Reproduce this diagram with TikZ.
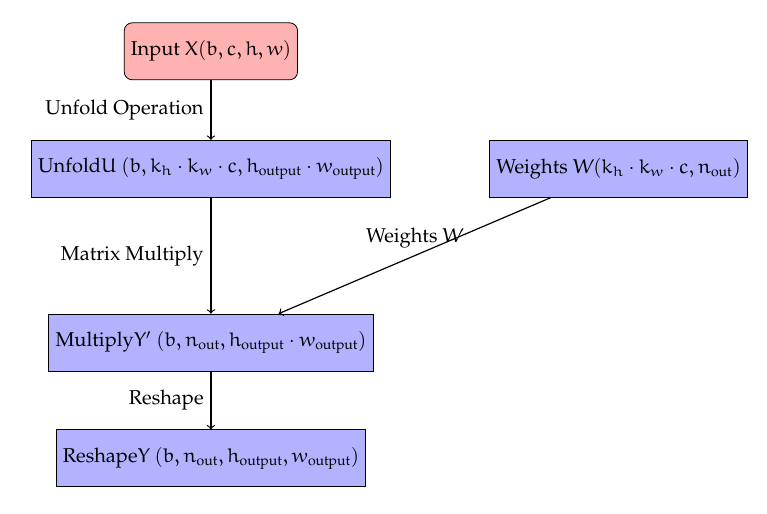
\documentclass[tikz,border=0pt]{standalone}
\usepackage[T1]{fontenc}
\usepackage{amsmath}
\IfFileExists{tgpagella.sty}{\usepackage{tgpagella}}{\IfFileExists{mathpazo.sty}{\renewcommand{\rmdefault}{ppl}}{}}
\IfFileExists{eulervm.sty}{\usepackage{eulervm}}{\IfFileExists{ueur.fd}{\DeclareSymbolFont{letters}{U}{eur}{m}{n}}{}}
\usepackage{tikz}

\begin{document}
\begin{tikzpicture}
        \tikzstyle{stage}=[draw=black, fill=blue!30, minimum height=1cm]
        \tikzstyle{source}=[draw=black, fill=red!30, rounded corners, minimum height=1cm]
        \tikzstyle{flow}=[->, semithick]
        \useasboundingbox (0,0) rectangle (13.456,-9);
        \node [source] (input) at (3.7,-0.9) {Input $X(b, c, h, w)$};
        \node [stage] (unfold) at (3.7,-2.96) {Unfold$U$ $(b, k_h \cdot k_w \cdot c, h_{\text{output}} \cdot w_{\text{output}})$};
        \node [stage] (weights) at (10.85,-2.96) {Weights $W(k_h \cdot k_w \cdot c, n_{\text{out}})$};
        \node [stage] (multiply) at (3.7,-6.01) {Multiply$Y'$ $(b, n_{\text{out}}, h_{\text{output}} \cdot w_{\text{output}})$};
        \node [stage] (reshape) at (3.7,-8.04) {Reshape$Y$ $(b, n_{\text{out}}, h_{\text{output}}, w_{\text{output}})$};
        \draw [flow] (input) -- (unfold) node [midway, left] {Unfold Operation};
        \draw [flow] (unfold) -- (multiply) node [midway, left] {Matrix Multiply};
        \draw [flow] (weights) -- (multiply) node [midway, above] {Weights $W$};
        \draw [flow] (multiply) -- (reshape) node [midway, left] {Reshape};
\end{tikzpicture}
\end{document}
